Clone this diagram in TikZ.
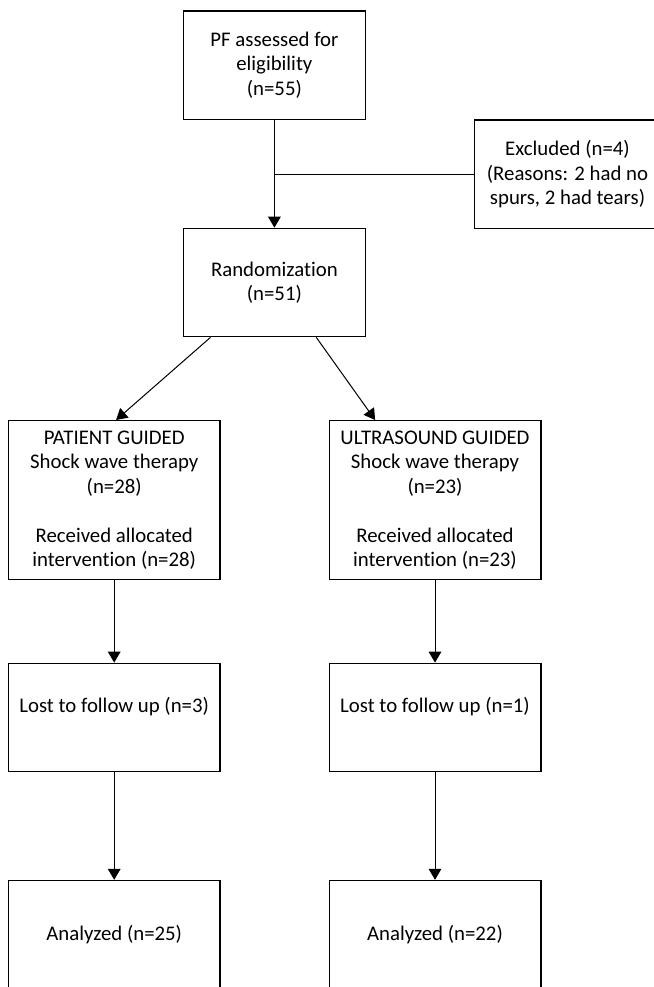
\documentclass[tikz,border=0pt]{standalone}
\usepackage{fontspec}
\setmainfont{Carlito}[Ligatures=NoCommon]
\usetikzlibrary{arrows.meta,calc}
\begin{document}
\begin{tikzpicture}[x=1pt,y=-1pt,
  box/.style={draw, line width=1.4pt, align=center, inner sep=0pt,
    font=\fontsize{20.8}{24.5}\selectfont},
  narrowbox/.style={box, minimum width=182.2pt, minimum height=108.3pt},
  widebox/.style={box, minimum width=211.6pt},
  conn/.style={line width=1pt, -{Triangle[width=12.7pt,length=11pt]}},
  plain/.style={line width=1pt}]
\useasboundingbox (0,0) rectangle (653,987);
\node[narrowbox] (assess) at (274.4,65.2) {PF assessed for\\eligibility\\(n=55)};
\node[box, minimum width=186.4pt, minimum height=108.3pt] (excl) at (567.5,174.2)
  {Excluded (n=4)\\(Reasons: 2 had no\\spurs, 2 had tears)};
\node[narrowbox] (rand) at (274.4,282.5) {Randomization\\(n=51)};
\node[widebox, minimum height=158.6pt] (pg) at (114.2,500)
  {PATIENT GUIDED\\Shock wave therapy\\(n=28)\\[24.5pt]Received allocated\\intervention (n=28)};
\node[widebox, minimum height=158.6pt] (ug) at (435,500)
  {ULTRASOUND GUIDED\\Shock wave therapy\\(n=23)\\[24.5pt]Received allocated\\intervention (n=23)};
\node[widebox, minimum height=108.4pt] (lostl) at (114.2,717.5)
  {Lost to follow up (n=3)\\\mbox{}};
\node[widebox, minimum height=108.4pt] (lostr) at (435,717.5)
  {Lost to follow up (n=1)\\\mbox{}};
\node[widebox, minimum height=108.4pt] (anal) at (114.2,934.7) {Analyzed (n=25)};
\node[widebox, minimum height=108.4pt] (anar) at (435,934.7) {Analyzed (n=22)};
\draw[conn] (assess.south) -- (rand.north);
\draw[plain] (excl.west) -- (excl.west -| assess.south);
\draw[conn] ($(rand.south west)!0.152!(rand.south east)$) -- ($(pg.north west)!0.509!(pg.north east)$);
\draw[conn] ($(rand.south west)!0.728!(rand.south east)$) -- ($(ug.north west)!0.219!(ug.north east)$);
\draw[conn] (pg.south) -- (lostl.north);
\draw[conn] (ug.south) -- (lostr.north);
\draw[conn] (lostl.south) -- (anal.north);
\draw[conn] (lostr.south) -- (anar.north);
\end{tikzpicture}
\end{document}
